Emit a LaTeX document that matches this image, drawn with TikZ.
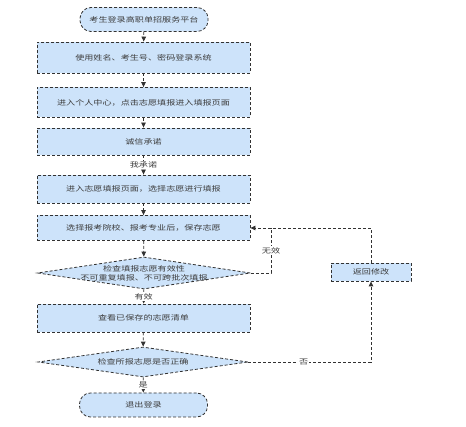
\documentclass[tikz,border=0pt]{standalone}
\usepackage{fontspec}
\newfontfamily\cjk[FakeStretch=1.3]{Noto Sans CJK SC}
\usetikzlibrary{shapes.geometric,arrows.meta}
\definecolor{boxfill}{RGB}{205,227,250}
\definecolor{boxline}{RGB}{50,50,50}
\definecolor{txt}{RGB}{60,60,60}
\tikzset{
  base/.style={draw=boxline, densely dashed, line width=0.8pt, fill=boxfill, font=\cjk\fontsize{7}{9}\selectfont, text=txt, align=center, inner sep=0pt},
  procbox/.style={base, rectangle, minimum width=213pt},
  termbox/.style={base, rectangle, rounded corners=11pt, minimum width=128pt, minimum height=24pt},
  decbox/.style={base, diamond, shape aspect=6.5, minimum width=213pt, minimum height=32pt},
  dectext/.style={font=\cjk\fontsize{7}{9}\selectfont, text=txt, align=center, inner sep=0pt},
  conn/.style={draw=boxline, densely dashed, line width=0.8pt, -{Triangle[length=5pt,width=4.5pt,fill=black!80]}},
  plainconn/.style={draw=boxline, densely dashed, line width=0.8pt},
  lbl/.style={fill=white, font=\cjk\fontsize{7}{9}\selectfont, text=txt, inner sep=1pt}
}
\begin{document}
\begin{tikzpicture}[x=1pt,y=-1pt]
\useasboundingbox (0,0) rectangle (466,427);
\node[termbox] (start) at (144,19.5) {考生登录高职单招服务平台};
\node[procbox, minimum height=31pt] (b1) at (143.5,57.5) {使用姓名、考生号、密码登录系统};
\node[procbox, minimum height=30pt] (b2) at (143.5,102.5) {进入个人中心，点击志愿填报进入填报页面};
\node[procbox, minimum height=27pt] (b3) at (143.5,141.5) {诚信承诺};
\node[procbox, minimum height=28pt] (b4) at (143.5,189) {进入志愿填报页面，选择志愿进行填报};
\node[procbox, minimum height=25pt] (b5) at (143.5,228) {选择报考院校、报考专业后，保存志愿};
\node[decbox] (d1) at (144,273) {};
\node[dectext] (d1t) at (d1.center) {检查填报志愿有效性\\不可重复填报、不可跨批次填报};
\node[procbox, minimum height=28pt] (b6) at (143.5,318) {查看已保存的志愿清单};
\node[decbox, minimum height=30pt, minimum width=210pt] (d2) at (143,362) {};
\node[dectext] (d2t) at (d2.center) {检查所报志愿是否正确};
\node[termbox] (end) at (143.5,405) {退出登录};
\node[base, rectangle, minimum width=80pt, minimum height=18pt] (back) at (371,272) {返回修改};
\coordinate (j1) at (271,273);
\coordinate (j2) at (271,228);
\draw[conn] (start) -- (b1);
\draw[conn] (b1) -- (b2);
\draw[conn] (b2) -- (b3);
\draw[conn] (b3) -- node[lbl] {我承诺} (b4);
\draw[conn] (b4) -- (b5);
\draw[conn] (b5) -- (d1);
\draw[conn] (d1) -- node[lbl] {有效} (b6);
\draw[conn] (b6) -- (d2);
\draw[conn] (d2) -- node[lbl] {是} (end);
\draw[plainconn] (d1.east) -- (j1) -- node[lbl] {无效} (j2);
\draw[conn] (back.north) |- (b5.east);
\draw[conn] (d2.east) -- node[lbl, pos=0.45] {否} (d2.east -| back.south) -- (back.south);
\end{tikzpicture}
\end{document}
